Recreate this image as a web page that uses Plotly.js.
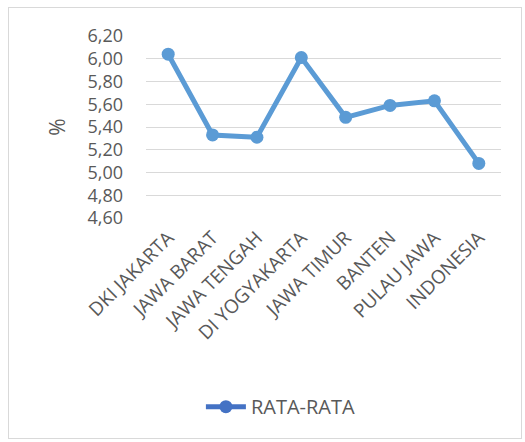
<!DOCTYPE html>
<html><head><meta charset="utf-8">
<script src="https://cdn.plot.ly/plotly-3.0.1.min.js"></script>
<style>
html,body{margin:0;padding:0;background:#fff;}
#frame{position:absolute;left:8px;top:7px;width:514px;height:432px;border:1px solid #d9d9d9;box-sizing:border-box;}
#chart{position:absolute;left:0;top:0;width:525px;height:442px;}
</style></head>
<body>
<div id="frame"></div>
<div id="chart"></div>
<script>
var categories = ["DKI JAKARTA","JAWA BARAT","JAWA TENGAH","DI YOGYAKARTA","JAWA TIMUR","BANTEN","PULAU JAWA","INDONESIA"];
var rataRata = [6.04, 5.33, 5.31, 6.01, 5.485, 5.59, 5.63, 5.08];
var yTicks = [4.6, 4.8, 5.0, 5.2, 5.4, 5.6, 5.8, 6.0, 6.2];
var seriesName = "RATA-RATA";

var font = {family: "Open Sans, Liberation Sans, sans-serif", color: "#595959", size: 19};

var traces = [
  {x: categories, y: rataRata, type: "scatter", mode: "lines+markers", showlegend: false,
   line: {color: "#5B9BD5", width: 5}, marker: {color: "#5B9BD5", size: 13}, name: seriesName},
  {x: [categories[0]], y: [null], type: "scatter", mode: "lines+markers", name: seriesName,
   line: {color: "#4472C4", width: 5}, marker: {color: "#4472C4", size: 13}}
];

var layout = {
  width: 525, height: 442,
  paper_bgcolor: "rgba(0,0,0,0)", plot_bgcolor: "rgba(0,0,0,0)",
  margin: {l: 146, r: 24, t: 36, b: 224},
  separators: ",.",
  font: font,
  xaxis: {type: "category", range: [-0.5, 7.5], tickangle: -45, showgrid: false, zeroline: false,
          showline: false, ticks: "", tickfont: {size: 19}, ticklabelstandoff: 4},
  yaxis: {range: [4.6, 6.2], tickvals: yTicks, tickformat: ".2f", showgrid: true, gridcolor: "#d9d9d9",
          gridwidth: 1, zeroline: false, showline: false, ticks: "", ticklen: 0, ticklabelstandoff: 22,
          title: {text: "%", font: {size: 21}, standoff: 16}, tickfont: {size: 18}},
  showlegend: true,
  legend: {orientation: "h", x: 0.38, xref: "paper", xanchor: "center", y: 0.08, yref: "container", yanchor: "middle",
           font: {size: 20}, itemwidth: 40}
};
Plotly.newPlot("chart", traces, layout, {displayModeBar: false, staticPlot: true});
</script>
</body></html>
